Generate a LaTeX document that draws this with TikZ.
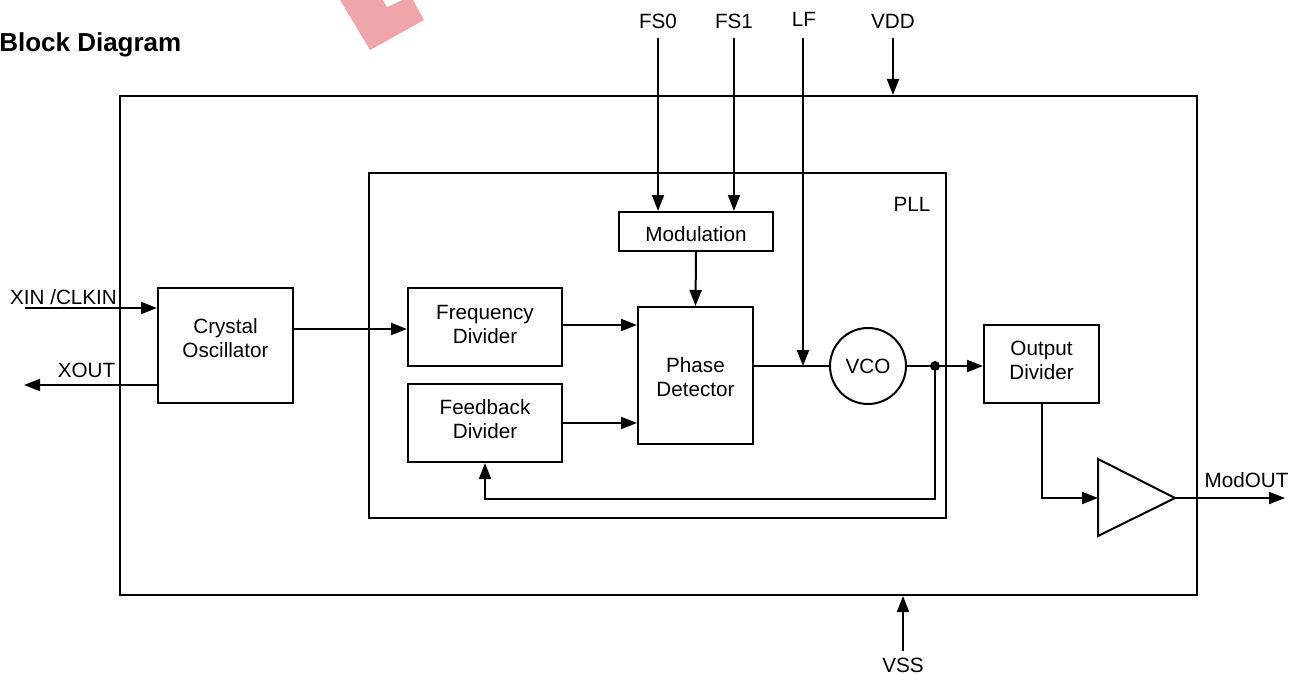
\documentclass[tikz,border=0pt]{standalone}
\usepackage{fontspec}
\setmainfont{Liberation Sans}
\usetikzlibrary{arrows.meta,calc}
\definecolor{wmred}{RGB}{238,166,170}
\begin{document}
\begin{tikzpicture}[x=0.75pt,y=-0.75pt,
  blk/.style={draw, line width=1.5pt, inner sep=0pt},
  txt/.style={inner sep=0pt, align=center, font=\fontsize{15.5}{18}\selectfont},
  wire/.style={line width=1.5pt},
  arr/.style={line width=1.5pt, -{Triangle[length=12pt,width=9pt]}}]
\useasboundingbox (0,0) rectangle (1299,674);

% watermark fragment
\fill[wmred] (340,0) -- (370,50) -- (424,20) -- (413,0) -- cycle;
\fill[white] (383,0) -- (387,7) -- (402,0) -- cycle;

% title
\node[inner sep=0pt, anchor=base west, font=\fontsize{19.5}{22}\selectfont\bfseries] (title) at (-1,52) {Block Diagram};

% boxes
\node[blk, minimum width=807.75pt, minimum height=374.25pt] (outer) at (658.5,345.5) {};
\node[blk, minimum width=432.75pt, minimum height=258.75pt] (pll) at (657.5,345.5) {};
\node[blk, minimum width=115.5pt, minimum height=29.25pt] (mod) at (696,231.5) {};
\node[blk, minimum width=101.25pt, minimum height=86.25pt] (xo) at (225.5,345.5) {};
\node[blk, minimum width=115.5pt, minimum height=58.5pt] (fd) at (485,327) {};
\node[blk, minimum width=115.5pt, minimum height=58.5pt] (fb) at (485,423) {};
\node[blk, minimum width=86.25pt, minimum height=102.75pt] (pd) at (695.5,375.5) {};
\node[blk, minimum width=86.25pt, minimum height=58.5pt] (od) at (1041.5,364) {};
\node[blk, circle, minimum size=57pt] (vco) at (868,366) {};

% buffer triangle
\coordinate (bufin) at (1098,498);
\coordinate (bufout) at (1175,498);
\draw[wire, line join=miter] (1098,459) -- (bufout) -- (1098,536) -- cycle;

% texts
\node[txt] (pllt) at (912,204.5) {PLL};
\node[txt] (modt) at (696,234) {Modulation};
\node[txt] (xot) at (225.5,338.5) {Crystal\\Oscillator};
\node[txt] (fdt) at (485,324) {Frequency\\Divider};
\node[txt] (fbt) at (485,419.5) {Feedback\\Divider};
\node[txt] (pdt) at (695.5,377) {Phase\\Detector};
\node[txt] (odt) at (1041.5,360.5) {Output\\Divider};
\node[txt] (vcot) at (868,366) {VCO};
\node[txt] (fs0t) at (658,21) {FS0};
\node[txt] (fs1t) at (734,21) {FS1};
\node[txt] (lft) at (804,19.5) {LF};
\node[txt] (vddt) at (893,21) {VDD};
\node[txt] (vsst) at (903,665) {VSS};
\node[txt] (xint) at (63.5,297) {XIN /CLKIN};
\node[txt] (xoutt) at (86.5,370) {XOUT};
\node[txt] (modoutt) at (1246.5,480.5) {ModOUT};

% pin coordinates
\coordinate (xin) at (25,308);
\coordinate (xout) at (24,385);
\coordinate (fs0) at (658,38);
\coordinate (fs1) at (734,38);
\coordinate (lf) at (803,38);
\coordinate (vdd) at (893,38);
\coordinate (vss) at (903,651);
\coordinate (modout) at (1285,498);
\coordinate (tap) at (935,366);
\coordinate (fbret) at (935,499);

% connectors
\draw[arr] (xin) -- (xin -| xo.west);
\draw[arr] (xout -| xo.west) -- (xout);
\draw[arr] ($(xo.east |- fd.center)+(0,2)$) -- ($(fd.west)+(0,2)$);
\draw[arr] ($(fd.east)+(0,-2)$) -- ($(fd.east -| pd.west)+(0,-2)$);
\draw[arr] (fb.east) -- (fb.east -| pd.west);
\draw[arr] (fs0) -- (fs0 |- mod.north);
\draw[arr] (fs1) -- (fs1 |- mod.north);
\draw[arr] (mod.south) -- (pd.north);
\draw[wire] (pd.east |- vco.center) -- (vco.west);
\draw[arr] (lf) -- (lf |- vco.center);
\draw[arr] (vco.east) -- (od.west |- vco.center);
\fill (tap) circle[radius=5];
\draw[arr] (tap) -- (fbret) -| (fb.south);
\draw[arr] (od.south) |- (bufin);
\draw[arr] (bufout) -- (modout);
\draw[arr] (vdd) -- (vdd |- outer.north);
\draw[arr] (vss) -- (vss |- outer.south);
\end{tikzpicture}
\end{document}
